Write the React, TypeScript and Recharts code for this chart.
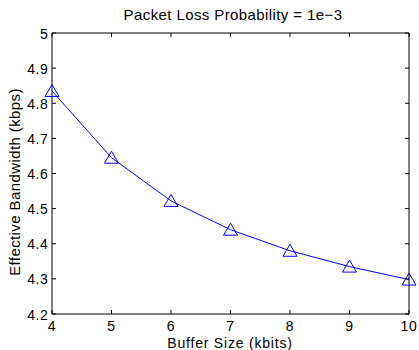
import React from "react";
import { LineChart, Line, XAxis, YAxis } from "recharts";

const bufferSizes = [4, 5, 6, 7, 8, 9, 10];
const effectiveBandwidth = [4.835, 4.645, 4.522, 4.44, 4.38, 4.335, 4.298];
const xTicks = [4, 5, 6, 7, 8, 9, 10];
const yTicks = [4.2, 4.3, 4.4, 4.5, 4.6, 4.7, 4.8, 4.9, 5];
const yTickLabels = ["4.2", "4.3", "4.4", "4.5", "4.6", "4.7", "4.8", "4.9", "5"];

const data = bufferSizes.map((x, i) => ({ x, y: effectiveBandwidth[i] }));

const FONT = "'Liberation Sans', Arial, Helvetica, sans-serif";
const FS = 15;
const LS = 0.4;
const TFS = 14;
const TLS = 0.6;
const TL = 4;

const BottomTick = (props: any) => {
  const { x, y, payload } = props;
  return (
    <g>
      <line x1={x} x2={x} y1={y} y2={y - TL} stroke="#000" strokeWidth={1} />
      <text x={x} y={y + 17} textAnchor="middle" fontSize={TFS} letterSpacing={TLS} fontFamily={FONT} fill="#000">
        {String(payload.value)}
      </text>
    </g>
  );
};

const TopTick = (props: any) => {
  const { x, y } = props;
  return <line x1={x} x2={x} y1={y} y2={y + TL} stroke="#000" strokeWidth={1} />;
};

const LeftTick = (props: any) => {
  const { x, y, payload } = props;
  const idx = yTicks.findIndex((t) => Math.abs(t - payload.value) < 1e-9);
  const label = idx >= 0 ? yTickLabels[idx] : String(payload.value);
  return (
    <g>
      <line x1={x} x2={x + TL} y1={y} y2={y} stroke="#000" strokeWidth={1} />
      <text x={x - 3.5} y={y + 5.5} textAnchor="end" fontSize={TFS} letterSpacing={TLS} fontFamily={FONT} fill="#000">
        {label}
      </text>
    </g>
  );
};

const RightTick = (props: any) => {
  const { x, y } = props;
  return <line x1={x} x2={x - TL} y1={y} y2={y} stroke="#000" strokeWidth={1} />;
};

const Triangle = (props: any) => {
  const { cx, cy } = props;
  if (cx == null || cy == null) return null;
  const pts = `${cx},${cy - 6.5} ${cx - 7},${cy + 5.5} ${cx + 7},${cy + 5.5}`;
  return <polygon points={pts} fill="none" stroke="#0000ff" strokeWidth={1} />;
};

export default function App() {
  return (
    <div style={{ position: "absolute", left: 0, top: 0, width: 419, height: 350, background: "#fff" }}>
      <LineChart
        width={419}
        height={350}
        data={data}
        margin={{ top: 32, right: 9, left: 0, bottom: 0 }}
      >
        <XAxis
          dataKey="x"
          type="number"
          domain={[4, 10]}
          ticks={xTicks}
          tickSize={0}
          tickMargin={0}
          tickLine={false}
          height={36}
          axisLine={{ stroke: "#000", strokeWidth: 1 }}
          tick={<BottomTick />}
          interval={0}
        />
        <XAxis
          xAxisId="top"
          orientation="top"
          dataKey="x"
          type="number"
          domain={[4, 10]}
          ticks={xTicks}
          tickSize={0}
          tickMargin={0}
          tickLine={false}
          height={1}
          axisLine={{ stroke: "#000", strokeWidth: 1 }}
          tick={<TopTick />}
          interval={0}
        />
        <YAxis
          type="number"
          domain={[4.2, 5]}
          ticks={yTicks}
          tickSize={0}
          tickMargin={0}
          tickLine={false}
          width={52}
          axisLine={{ stroke: "#000", strokeWidth: 1 }}
          tick={<LeftTick />}
          interval={0}
        />
        <YAxis
          yAxisId="right"
          orientation="right"
          type="number"
          domain={[4.2, 5]}
          ticks={yTicks}
          tickSize={0}
          tickMargin={0}
          tickLine={false}
          width={1}
          axisLine={{ stroke: "#000", strokeWidth: 1 }}
          tick={<RightTick />}
          interval={0}
        />
        <Line
          xAxisId="top"
          yAxisId="right"
          dataKey="y"
          stroke="#0000ff"
          strokeOpacity={0}
          dot={false}
          activeDot={false}
          legendType="none"
          isAnimationActive={false}
        />
        <Line
          dataKey="y"
          stroke="#0000ff"
          strokeWidth={1}
          dot={<Triangle />}
          activeDot={false}
          isAnimationActive={false}
          type="linear"
        />
        <text x={233} y={20} textAnchor="middle" fontSize={FS} letterSpacing={LS} fontFamily={FONT} fill="#000">
          Packet Loss Probability = 1e−3
        </text>
        <text x={230} y={347.5} textAnchor="middle" fontSize={14} letterSpacing={0.8} fontFamily={FONT} fill="#000">
          Buffer Size (kbits)
        </text>
        <text
          x={0}
          y={0}
          transform="translate(20, 182) rotate(-90)"
          textAnchor="middle"
          fontSize={FS}
          letterSpacing={LS}
          fontFamily={FONT}
          fill="#000"
        >
          Effective Bandwidth (kbps)
        </text>
      </LineChart>
    </div>
  );
}
